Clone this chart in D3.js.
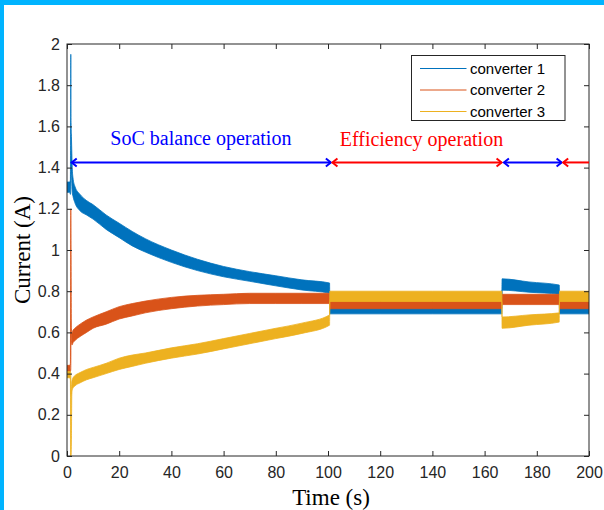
<!DOCTYPE html>
<html>
<head>
<meta charset="utf-8">
<script src="https://cdn.jsdelivr.net/npm/d3@7"></script>
<style>
  html, body { margin: 0; padding: 0; background: #fff; }
  svg { display: block; }
</style>
</head>
<body>
<svg id="chart" width="604" height="510"></svg>
<script>
// Sample times (s) of the measured current envelopes
const time = [0, 1.0, 1.3, 1.45, 1.55, 1.7, 1.85, 2.0, 2.3, 3, 5, 7.5, 10, 15, 20, 25, 30, 40, 50, 60, 70, 80, 90,
  100.6, 100.7, 120, 140, 166.6, 166.7, 177, 188.6, 188.7, 200];

// Converter 1 current envelope (A)
const c1Low  = [1.28, 1.28, 1.27, 1.30, 1.35, 1.38, 1.33, 1.28, 1.26, 1.23, 1.19, 1.17, 1.15, 1.10, 1.06, 1.02, 0.99, 0.94, 0.90, 0.87, 0.848, 0.826, 0.806,
  0.79, 0.69, 0.69, 0.69, 0.69, 0.805, 0.795, 0.785, 0.69, 0.69];
const c1High = [1.33, 1.33, 1.34, 1.95, 1.62, 1.55, 1.47, 1.40, 1.35, 1.31, 1.27, 1.24, 1.22, 1.17, 1.13, 1.09, 1.055, 1.00, 0.955, 0.92, 0.895, 0.875, 0.855,
  0.84, 0.74, 0.74, 0.74, 0.74, 0.86, 0.845, 0.83, 0.74, 0.74];

// Converter 2 current envelope (A)
const c2Low  = [0.41, 0.41, 0.41, 0.42, 0.60, 0.56, 0.54, 0.54, 0.55, 0.56, 0.58, 0.60, 0.62, 0.64, 0.665, 0.68, 0.695, 0.715, 0.728, 0.735, 0.74, 0.74, 0.74,
  0.74, 0.715, 0.715, 0.715, 0.715, 0.735, 0.735, 0.735, 0.715, 0.715];
const c2High = [0.44, 0.44, 0.45, 1.20, 1.00, 0.62, 0.60, 0.60, 0.61, 0.62, 0.64, 0.66, 0.675, 0.70, 0.725, 0.74, 0.752, 0.77, 0.78, 0.785, 0.79, 0.79, 0.79,
  0.79, 0.765, 0.765, 0.765, 0.765, 0.785, 0.785, 0.785, 0.765, 0.765];

// Converter 3 current envelope (A)
const c3Low  = [0.38, 0.38, 0.37, 0.00, 0.00, 0.10, 0.30, 0.32, 0.33, 0.34, 0.355, 0.37, 0.38, 0.40, 0.42, 0.435, 0.45, 0.475, 0.495, 0.52, 0.545, 0.57, 0.595,
  0.635, 0.75, 0.75, 0.75, 0.75, 0.62, 0.635, 0.65, 0.75, 0.75];
const c3High = [0.41, 0.41, 0.41, 0.40, 0.30, 0.33, 0.36, 0.37, 0.38, 0.39, 0.405, 0.42, 0.43, 0.45, 0.475, 0.49, 0.50, 0.525, 0.545, 0.57, 0.595, 0.62, 0.645,
  0.685, 0.80, 0.80, 0.80, 0.80, 0.675, 0.685, 0.695, 0.80, 0.80];

const seriesNames  = ["converter 1", "converter 2", "converter 3"];
const seriesColors = ["#0072BD", "#D95319", "#EDB120"];

// Operating phases shown by the double arrows
const phaseStart = [1.8, 101.7, 167.4, 190.1];
const phaseEnd   = [101.1, 166.5, 189.5, 200];
const phaseMode  = ["soc", "eff", "soc", "eff"];
const modeLabels = { soc: "SoC balance operation", eff: "Efficiency operation" };
const modeColors = { soc: "#0000FF", eff: "#FF0000" };

const xTicks = [0, 20, 40, 60, 80, 100, 120, 140, 160, 180, 200];
const yTicks = [0, 0.2, 0.4, 0.6, 0.8, 1, 1.2, 1.4, 1.6, 1.8, 2];
const yTickLabels = ["0", "0.2", "0.4", "0.6", "0.8", "1", "1.2", "1.4", "1.6", "1.8", "2"];

const svg = d3.select("#chart");
const W = 604, H = 510;
const plotL = 67, plotR = 589, plotT = 44, plotB = 456;

// frame accent along the top and left edges
svg.append("rect").attr("x", 0).attr("y", 0).attr("width", W).attr("height", 5).attr("fill", "#00B4FF");
svg.append("rect").attr("x", 0).attr("y", 0).attr("width", 4).attr("height", H).attr("fill", "#00B4FF");

const x = d3.scaleLinear().domain([0, 200]).range([plotL, plotR]);
const y = d3.scaleLinear().domain([0, 2]).range([plotB, plotT]);

svg.append("defs").append("clipPath").attr("id", "plotClip")
  .append("rect").attr("x", plotL).attr("y", plotT).attr("width", plotR - plotL).attr("height", plotB - plotT);

const bands = [
  { lo: c1Low, hi: c1High },
  { lo: c2Low, hi: c2High },
  { lo: c3Low, hi: c3High }
];

const area = d3.area()
  .curve(d3.curveMonotoneX)
  .x(d => x(d.t))
  .y0(d => y(d.lo))
  .y1(d => y(d.hi));

const plot = svg.append("g").attr("clip-path", "url(#plotClip)");
bands.forEach((b, i) => {
  const pts = time.map((t, k) => ({ t, lo: b.lo[k], hi: b.hi[k] }));
  plot.append("path")
    .datum(pts)
    .attr("d", area)
    .attr("fill", seriesColors[i])
    .attr("stroke", seriesColors[i])
    .attr("stroke-width", 0.8)
    .attr("stroke-linejoin", "miter");
});

// axes (box with inward ticks)
const tickFont = "'Liberation Sans', Arial, Helvetica, sans-serif";
const axisColor = "#262626";

function styleAxis(g) {
  g.selectAll("path.domain").remove();
  g.selectAll("line").attr("stroke", axisColor);
  g.selectAll("text").attr("fill", axisColor).style("font-family", tickFont).style("font-size", "16px");
}

svg.append("g").attr("transform", `translate(0,${plotB})`)
  .call(d3.axisBottom(x).tickValues(xTicks).tickSize(-5).tickPadding(11).tickFormat(d3.format("d")))
  .call(styleAxis);
svg.append("g").attr("transform", `translate(0,${plotT})`)
  .call(d3.axisTop(x).tickValues(xTicks).tickSize(-5).tickFormat(""))
  .call(styleAxis);
svg.append("g").attr("transform", `translate(${plotL},0)`)
  .call(d3.axisLeft(y).tickValues(yTicks).tickSize(-5).tickPadding(7).tickFormat((d, i) => yTickLabels[i]))
  .call(styleAxis);
svg.append("g").attr("transform", `translate(${plotR},0)`)
  .call(d3.axisRight(y).tickValues(yTicks).tickSize(-5).tickFormat(""))
  .call(styleAxis);

svg.append("rect")
  .attr("x", plotL).attr("y", plotT).attr("width", plotR - plotL).attr("height", plotB - plotT)
  .attr("fill", "none").attr("stroke", axisColor).attr("stroke-width", 1);

// phase arrows
const arrowY = y(1.425);
phaseStart.forEach((s, i) => {
  const c = modeColors[phaseMode[i]];
  const x0 = x(s), x1 = x(phaseEnd[i]);
  const g = svg.append("g").attr("stroke", c).attr("stroke-width", 2).attr("fill", "none");
  g.append("line").attr("x1", x0).attr("x2", Math.min(x1, plotR)).attr("y1", arrowY).attr("y2", arrowY);
  g.append("path").attr("d", `M${x0 + 5},${arrowY - 4}L${x0},${arrowY}L${x0 + 5},${arrowY + 4}`);
  if (phaseEnd[i] < 200) {
    g.append("path").attr("d", `M${x1 - 5},${arrowY - 4}L${x1},${arrowY}L${x1 - 5},${arrowY + 4}`);
  }
});

// phase labels
const serif = "'Liberation Serif', 'Times New Roman', Times, serif";
svg.append("text").attr("x", x(51.3)).attr("y", y(1.51))
  .attr("text-anchor", "middle").attr("fill", modeColors.soc)
  .style("font-family", serif).style("font-size", "20px").text(modeLabels.soc);
svg.append("text").attr("x", x(135.8)).attr("y", y(1.505))
  .attr("text-anchor", "middle").attr("fill", modeColors.eff)
  .style("font-family", serif).style("font-size", "20px").text(modeLabels.eff);

// axis titles
svg.append("text").attr("x", (plotL + plotR) / 2 + 3).attr("y", 505)
  .attr("text-anchor", "middle").attr("fill", "#000")
  .style("font-family", serif).style("font-size", "23px").text("Time (s)");
svg.append("text").attr("transform", `translate(30,${(plotT + plotB) / 2}) rotate(-90)`)
  .attr("text-anchor", "middle").attr("fill", "#000")
  .style("font-family", serif).style("font-size", "23px").text("Current (A)");

// legend
const legend = svg.append("g");
legend.append("rect").attr("x", 411.5).attr("y", 55.5).attr("width", 153.5).attr("height", 65)
  .attr("fill", "#fff").attr("stroke", axisColor).attr("stroke-width", 1);
const rowY = [68.5, 90, 111.5];
seriesNames.forEach((name, i) => {
  legend.append("line").attr("x1", 420).attr("x2", 466.5).attr("y1", rowY[i]).attr("y2", rowY[i])
    .attr("stroke", seriesColors[i]).attr("stroke-width", 1);
  legend.append("text").attr("x", 470).attr("y", rowY[i]).attr("dy", "0.35em")
    .attr("fill", "#000").style("font-family", tickFont).style("font-size", "15px").text(name);
});
</script>
</body>
</html>
